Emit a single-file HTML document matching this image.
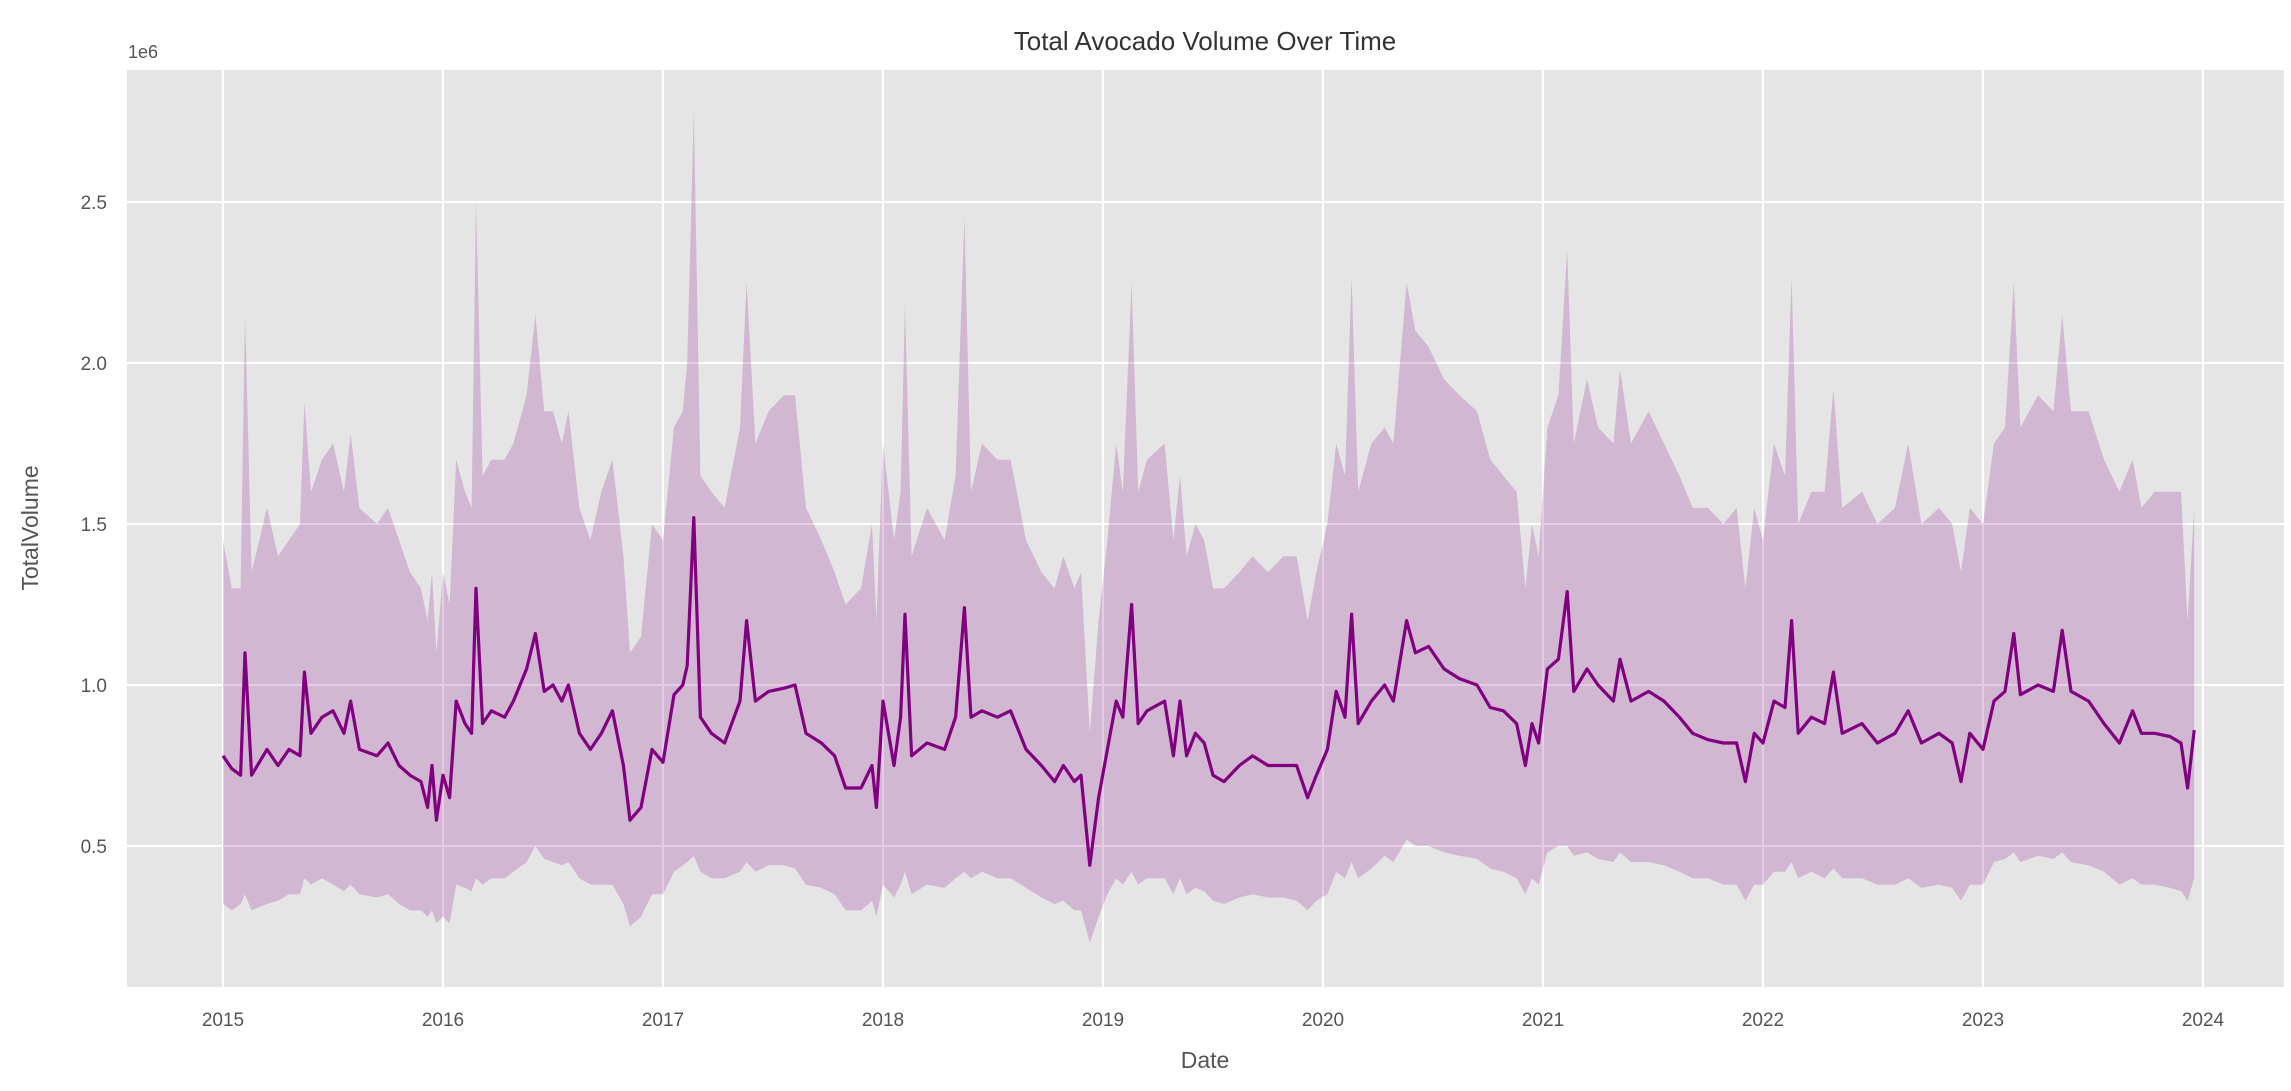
<!DOCTYPE html>
<html><head><meta charset="utf-8"><style>
html,body{margin:0;padding:0;background:#fff;}
svg{display:block;font-family:"Liberation Sans","DejaVu Sans",sans-serif;}
</style></head><body>
<svg id="chart" width="2291" height="1091" viewBox="0 0 2291 1091" xmlns="http://www.w3.org/2000/svg">
<rect width="2291" height="1091" fill="#fff"/>
<rect x="127" y="70" width="2157" height="917" fill="#e5e5e5"/>
<g id="grid"></g>
<g id="band"></g>
<g id="line"></g>
<g id="axes"></g>
<text x="1205" y="50" text-anchor="middle" font-size="26" fill="#333">Total Avocado Volume Over Time</text>
<text x="128" y="58" font-size="18" fill="#555">1e6</text>
<text transform="translate(38,528) rotate(-90)" text-anchor="middle" font-size="23" fill="#555">TotalVolume</text>
<text x="1205" y="1068" text-anchor="middle" font-size="23" fill="#555">Date</text>
</svg>
<script>
const dates=[2015.0,2015.04,2015.08,2015.1,2015.13,2015.2,2015.25,2015.3,2015.35,2015.37,2015.4,2015.45,2015.5,2015.55,2015.58,2015.62,2015.7,2015.75,2015.8,2015.85,2015.9,2015.93,2015.95,2015.97,
2016.0,2016.03,2016.06,2016.1,2016.13,2016.15,2016.18,2016.22,2016.28,2016.32,2016.38,2016.42,2016.46,2016.5,2016.54,2016.57,2016.62,2016.67,2016.72,2016.77,2016.82,2016.85,2016.9,2016.95,
2017.0,2017.05,2017.09,2017.11,2017.14,2017.17,2017.22,2017.28,2017.35,2017.38,2017.42,2017.48,2017.55,2017.6,2017.65,2017.72,2017.78,2017.83,2017.9,2017.95,2017.97,
2018.0,2018.05,2018.08,2018.1,2018.13,2018.2,2018.28,2018.33,2018.37,2018.4,2018.45,2018.52,2018.58,2018.65,2018.72,2018.78,2018.82,2018.87,2018.9,2018.94,2018.98,
2019.02,2019.06,2019.09,2019.13,2019.16,2019.2,2019.28,2019.32,2019.35,2019.38,2019.42,2019.46,2019.5,2019.55,2019.62,2019.68,2019.75,2019.82,2019.88,2019.93,2019.97,
2020.02,2020.06,2020.1,2020.13,2020.16,2020.22,2020.28,2020.32,2020.38,2020.42,2020.48,2020.55,2020.62,2020.7,2020.76,2020.82,2020.88,2020.92,2020.95,2020.98,
2021.02,2021.07,2021.11,2021.14,2021.2,2021.25,2021.32,2021.35,2021.4,2021.48,2021.55,2021.62,2021.68,2021.75,2021.82,2021.88,2021.92,2021.96,
2022.0,2022.05,2022.1,2022.13,2022.16,2022.22,2022.28,2022.32,2022.36,2022.45,2022.52,2022.6,2022.66,2022.72,2022.8,2022.86,2022.9,2022.94,
2023.0,2023.05,2023.1,2023.14,2023.17,2023.25,2023.32,2023.36,2023.4,2023.48,2023.55,2023.62,2023.68,2023.72,2023.78,2023.85,2023.9,2023.93,2023.96];
const meanVals=[0.78,0.74,0.72,1.1,0.72,0.8,0.75,0.8,0.78,1.04,0.85,0.9,0.92,0.85,0.95,0.8,0.78,0.82,0.75,0.72,0.7,0.62,0.75,0.58,
0.72,0.65,0.95,0.88,0.85,1.3,0.88,0.92,0.9,0.95,1.05,1.16,0.98,1.0,0.95,1.0,0.85,0.8,0.85,0.92,0.75,0.58,0.62,0.8,
0.76,0.97,1.0,1.06,1.52,0.9,0.85,0.82,0.95,1.2,0.95,0.98,0.99,1.0,0.85,0.82,0.78,0.68,0.68,0.75,0.62,
0.95,0.75,0.9,1.22,0.78,0.82,0.8,0.9,1.24,0.9,0.92,0.9,0.92,0.8,0.75,0.7,0.75,0.7,0.72,0.44,0.65,
0.8,0.95,0.9,1.25,0.88,0.92,0.95,0.78,0.95,0.78,0.85,0.82,0.72,0.7,0.75,0.78,0.75,0.75,0.75,0.65,0.72,
0.8,0.98,0.9,1.22,0.88,0.95,1.0,0.95,1.2,1.1,1.12,1.05,1.02,1.0,0.93,0.92,0.88,0.75,0.88,0.82,
1.05,1.08,1.29,0.98,1.05,1.0,0.95,1.08,0.95,0.98,0.95,0.9,0.85,0.83,0.82,0.82,0.7,0.85,
0.82,0.95,0.93,1.2,0.85,0.9,0.88,1.04,0.85,0.88,0.82,0.85,0.92,0.82,0.85,0.82,0.7,0.85,
0.8,0.95,0.98,1.16,0.97,1.0,0.98,1.17,0.98,0.95,0.88,0.82,0.92,0.85,0.85,0.84,0.82,0.68,0.86];
const upperVals=[1.45,1.3,1.3,2.15,1.35,1.55,1.4,1.45,1.5,1.88,1.6,1.7,1.75,1.6,1.78,1.55,1.5,1.55,1.45,1.35,1.3,1.2,1.35,1.1,
1.35,1.25,1.7,1.6,1.55,2.5,1.65,1.7,1.7,1.75,1.9,2.15,1.85,1.85,1.75,1.85,1.55,1.45,1.6,1.7,1.4,1.1,1.15,1.5,
1.45,1.8,1.85,2.0,2.78,1.65,1.6,1.55,1.8,2.25,1.75,1.85,1.9,1.9,1.55,1.45,1.35,1.25,1.3,1.5,1.2,
1.75,1.45,1.6,2.18,1.4,1.55,1.45,1.65,2.45,1.6,1.75,1.7,1.7,1.45,1.35,1.3,1.4,1.3,1.35,0.85,1.2,
1.45,1.75,1.6,2.25,1.6,1.7,1.75,1.45,1.65,1.4,1.5,1.45,1.3,1.3,1.35,1.4,1.35,1.4,1.4,1.2,1.35,
1.5,1.75,1.65,2.27,1.6,1.75,1.8,1.75,2.25,2.1,2.05,1.95,1.9,1.85,1.7,1.65,1.6,1.3,1.5,1.4,
1.8,1.9,2.35,1.75,1.95,1.8,1.75,1.98,1.75,1.85,1.75,1.65,1.55,1.55,1.5,1.55,1.3,1.55,
1.45,1.75,1.65,2.27,1.5,1.6,1.6,1.92,1.55,1.6,1.5,1.55,1.75,1.5,1.55,1.5,1.35,1.55,
1.5,1.75,1.8,2.25,1.8,1.9,1.85,2.15,1.85,1.85,1.7,1.6,1.7,1.55,1.6,1.6,1.6,1.2,1.55];
const lowerVals=[0.32,0.3,0.32,0.35,0.3,0.32,0.33,0.35,0.35,0.4,0.38,0.4,0.38,0.36,0.38,0.35,0.34,0.35,0.32,0.3,0.3,0.28,0.3,0.26,
0.28,0.26,0.38,0.37,0.36,0.4,0.38,0.4,0.4,0.42,0.45,0.5,0.46,0.45,0.44,0.45,0.4,0.38,0.38,0.38,0.32,0.25,0.28,0.35,
0.35,0.42,0.44,0.45,0.47,0.42,0.4,0.4,0.42,0.45,0.42,0.44,0.44,0.43,0.38,0.37,0.35,0.3,0.3,0.33,0.28,
0.38,0.34,0.38,0.42,0.35,0.38,0.37,0.4,0.42,0.4,0.42,0.4,0.4,0.37,0.34,0.32,0.33,0.3,0.3,0.2,0.28,
0.35,0.4,0.38,0.42,0.38,0.4,0.4,0.35,0.4,0.35,0.37,0.36,0.33,0.32,0.34,0.35,0.34,0.34,0.33,0.3,0.33,
0.35,0.42,0.4,0.45,0.4,0.43,0.47,0.45,0.52,0.5,0.5,0.48,0.47,0.46,0.43,0.42,0.4,0.35,0.4,0.38,
0.48,0.5,0.5,0.47,0.48,0.46,0.45,0.48,0.45,0.45,0.44,0.42,0.4,0.4,0.38,0.38,0.33,0.38,
0.38,0.42,0.42,0.45,0.4,0.42,0.4,0.43,0.4,0.4,0.38,0.38,0.4,0.37,0.38,0.37,0.33,0.38,
0.38,0.45,0.46,0.48,0.45,0.47,0.46,0.48,0.45,0.44,0.42,0.38,0.4,0.38,0.38,0.37,0.36,0.33,0.4];
const xTicks=[2015,2016,2017,2018,2019,2020,2021,2022,2023,2024];
const yTicks=[0.5,1.0,1.5,2.0,2.5];
const yTickLabels=["0.5","1.0","1.5","2.0","2.5"];

const NS="http://www.w3.org/2000/svg";
function xs(v){return 223+(v-2015)*220;}
function ys(v){return 1007-v*322;}
function mk(tag,attrs,parent){const e=document.createElementNS(NS,tag);for(const k in attrs)e.setAttribute(k,attrs[k]);parent.appendChild(e);return e;}
const grid=document.getElementById('grid'),axes=document.getElementById('axes');
xTicks.forEach(t=>{
  const l=mk('line',{x1:xs(t),x2:xs(t),y1:70,y2:987,stroke:'#fff','stroke-width':2},grid);
  
  
  const tx=mk('text',{x:xs(t),y:1026,'text-anchor':'middle','font-size':19,fill:'#555'},axes);
  tx.textContent=String(t);
  
  
});
yTicks.forEach((t,i)=>{
  const l=mk('line',{x1:127,x2:2284,y1:ys(t),y2:ys(t),stroke:'#fff','stroke-width':2},grid);
  
  
  const tx=mk('text',{x:107,y:ys(t)+7,'text-anchor':'end','font-size':19,fill:'#555'},axes);
  tx.textContent=yTickLabels[i];
  
  
});
let d='';
dates.forEach((t,i)=>{d+=(i?'L':'M')+xs(t).toFixed(1)+','+ys(upperVals[i]).toFixed(1);});
for(let i=dates.length-1;i>=0;i--){d+='L'+xs(dates[i]).toFixed(1)+','+ys(lowerVals[i]).toFixed(1);}
d+='Z';
const band=mk('path',{d:d,fill:'#800080','fill-opacity':0.2,stroke:'none'},document.getElementById('band'));


const pts=dates.map((t,i)=>xs(t).toFixed(1)+','+ys(meanVals[i]).toFixed(1)).join(' ');
const ln=mk('polyline',{points:pts,fill:'none',stroke:'#800080','stroke-width':3.2,'stroke-linejoin':'round'},document.getElementById('line'));


</script>
</body></html>
